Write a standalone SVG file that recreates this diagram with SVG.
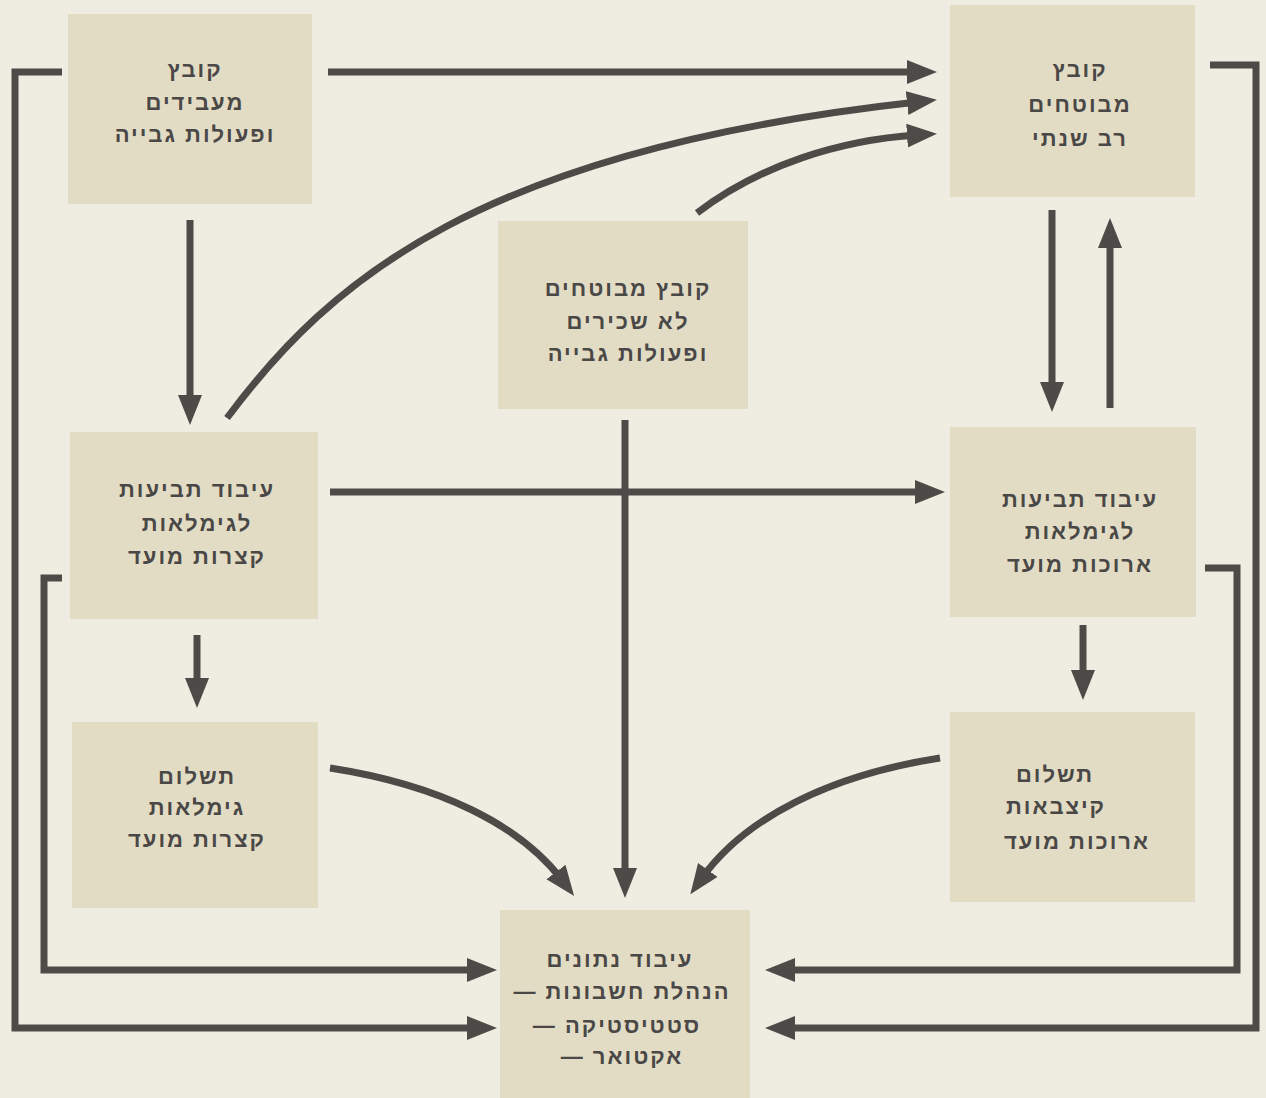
<svg xmlns="http://www.w3.org/2000/svg" width="1266" height="1098" viewBox="0 0 1266 1098">
<style>
.bg{fill:#efede1}
.box{fill:#e3dcc5}
.t{font-family:"Liberation Sans","DejaVu Sans",sans-serif;font-size:22px;font-weight:bold;fill:#4a4846;text-anchor:middle;direction:rtl;letter-spacing:2px}
.c{fill:none;stroke:#4d4b48;stroke-width:7}
.a{marker-end:url(#ah)}
</style>
<defs>
<marker id="ah" markerUnits="userSpaceOnUse" markerWidth="32" markerHeight="26" refX="10" refY="12" orient="auto">
<path d="M0,0 L30,12 L0,24 Z" fill="#4d4b48"/>
</marker>
</defs>
<rect class="bg" x="0" y="0" width="1266" height="1098"/>

<g id="connectors">
<path class="c a" d="M328,72 L917,72"/>
<path class="c a" d="M227,418 C330,280 480,150 917,102"/>
<path class="c a" d="M697,213 C760,165 840,140 917,135"/>
<path class="c a" d="M190,220 L190,405"/>
<path class="c a" d="M330,492 L925,492"/>
<path class="c a" d="M1052,210 L1052,392"/>
<path class="c a" d="M1110,408 L1110,238"/>
<path class="c a" d="M197,635 L197,688"/>
<path class="c a" d="M1083,625 L1083,680"/>
<path class="c a" d="M625,420 L625,878"/>
<path class="c a" d="M330,768 C440,785 520,825 562,880"/>
<path class="c a" d="M940,758 C830,775 745,818 702,878"/>
<path class="c a" d="M62,72 L15,72 L15,1028 L477,1028"/>
<path class="c a" d="M62,578 L44,578 L44,970 L477,970"/>
<path class="c a" d="M1210,65 L1256,65 L1256,1028 L785,1028"/>
<path class="c a" d="M1205,568 L1237,568 L1237,970 L785,970"/>
</g>

<g id="n1"><rect class="box" x="68" y="14" width="244" height="190"/>
<text class="t" x="195" y="77">קובץ</text><text class="t" x="195" y="110">מעבידים</text><text class="t" x="195" y="142">ופעולות גבייה</text></g>

<g id="n2"><rect class="box" x="950" y="5" width="245" height="192"/>
<text class="t" x="1080" y="77">קובץ</text><text class="t" x="1080" y="112">מבוטחים</text><text class="t" x="1080" y="146">רב שנתי</text></g>

<g id="n3"><rect class="box" x="498" y="221" width="250" height="188"/>
<text class="t" x="628" y="296">קובץ מבוטחים</text><text class="t" x="628" y="329">לא שכירים</text><text class="t" x="628" y="361">ופעולות גבייה</text></g>

<g id="n4"><rect class="box" x="70" y="432" width="248" height="187"/>
<text class="t" x="197" y="497">עיבוד תביעות</text><text class="t" x="197" y="531">לגימלאות</text><text class="t" x="197" y="564">קצרות מועד</text></g>

<g id="n5"><rect class="box" x="950" y="427" width="246" height="190"/>
<text class="t" x="1080" y="507">עיבוד תביעות</text><text class="t" x="1080" y="539">לגימלאות</text><text class="t" x="1080" y="572">ארוכות מועד</text></g>

<g id="n6"><rect class="box" x="72" y="722" width="246" height="186"/>
<text class="t" x="197" y="784">תשלום</text><text class="t" x="197" y="815">גימלאות</text><text class="t" x="197" y="847">קצרות מועד</text></g>

<g id="n7"><rect class="box" x="950" y="712" width="245" height="190"/>
<text class="t" x="1055" y="782">תשלום</text><text class="t" x="1056" y="814">קיצבאות</text><text class="t" x="1077" y="849">ארוכות מועד</text></g>

<g id="n8"><rect class="box" x="500" y="910" width="250" height="188"/>
<text class="t" x="620" y="967">עיבוד נתונים</text><text class="t" x="622" y="999">הנהלת חשבונות —</text><text class="t" x="617" y="1033">סטטיסטיקה —</text><text class="t" x="622" y="1064">אקטואר —</text></g>
</svg>
